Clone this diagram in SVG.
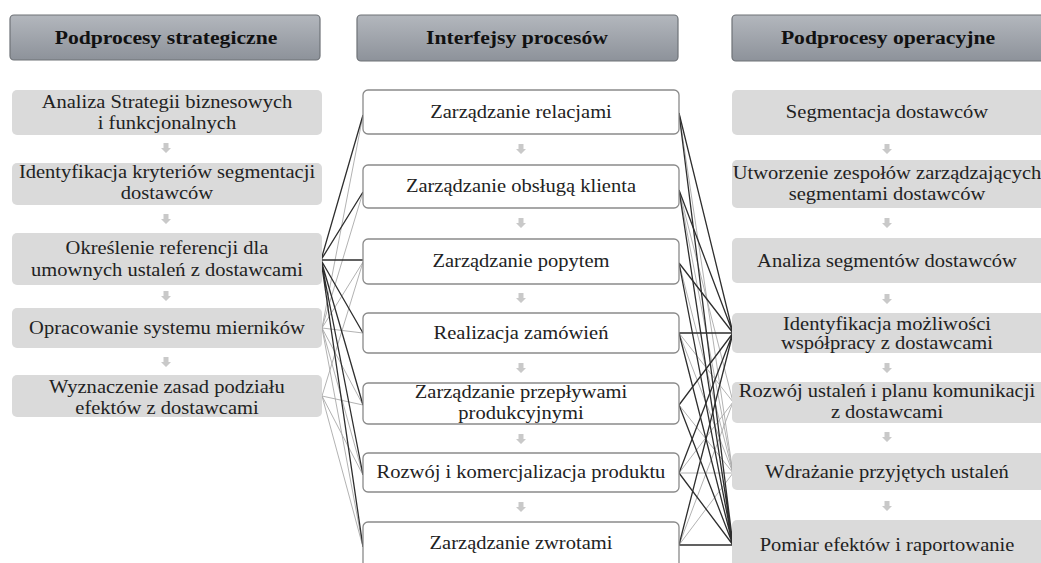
<svg xmlns="http://www.w3.org/2000/svg" width="1041" height="563" viewBox="0 0 1041 563">
<defs>
<linearGradient id="hg" x1="0" y1="0" x2="0" y2="1">
<stop offset="0" stop-color="#b3b7bd"/>
<stop offset="1" stop-color="#8d929a"/>
</linearGradient>
<path id="dn" d="M-2.5,-5 H2.5 V0 H5 L0,5 L-5,0 H-2.5 Z" fill="#c9c9c9"/>
</defs>
<style>
.hd{fill:url(#hg);stroke:#6e7277;stroke-width:1.2}
.ht{font-family:'Liberation Serif','Times New Roman','DejaVu Serif',serif;font-weight:bold;font-size:19px;fill:#111;text-anchor:middle;dominant-baseline:central;transform-box:fill-box;transform-origin:center;transform:scaleX(1.14)}
.gb{fill:#dadada}
.wb{fill:#fff;stroke:#8a8a8a;stroke-width:1.3}
.t{font-family:'Liberation Serif','Times New Roman','DejaVu Serif',serif;font-size:18px;fill:#222;text-anchor:middle;dominant-baseline:central;transform-box:fill-box;transform-origin:center;transform:scaleX(1.14)}
.dk{stroke:#2e2e2e;stroke-width:1.3;fill:none}
.lt{stroke:#a9a9a9;stroke-width:0.9;fill:none}
</style>
<rect width="1041" height="563" fill="#fff"/>

<g id="headers">
<g id="h-left"><rect class="hd" x="10" y="15" width="310" height="45" rx="4"/><text class="ht" x="166" y="37">Podprocesy strategiczne</text></g>
<g id="h-mid"><rect class="hd" x="357" y="15" width="321" height="46" rx="4"/><text class="ht" x="517" y="37">Interfejsy procesów</text></g>
<g id="h-right"><rect class="hd" x="732" y="15" width="320" height="46" rx="4"/><text class="ht" x="888" y="37">Podprocesy operacyjne</text></g>
</g>

<g id="connectors">
<g id="light">
<path class="lt" d="M322,328 L363,115 M322,328 L363,192 M322,328 L363,262 M322,328 L363,333 M322,328 L363,405 M322,328 L363,475 M322,328 L363,547"/>
<path class="lt" d="M322,396 L363,405 M322,396 L363,475 M322,396 L363,547 M322,396 L363,262"/>
<path class="lt" d="M679,113 L733,473 M679,190 L733,473 M679,263 L733,473 M679,333 L733,473 M679,405 L733,473 M679,473 L733,473 M679,545 L733,473"/>
<path class="lt" d="M679,190 L733,402 M679,333 L733,402 M679,473 L733,402 M679,545 L733,402"/>
</g>
<g id="dark">
<path class="dk" d="M321,260 L363,115 M321,260 L363,192 M321,260 L363,260 M321,260 L363,333 M321,260 L363,405 M321,260 L363,475 M321,260 L363,547"/>
<path class="dk" d="M679,113 L733,333 M679,190 L733,333 M679,263 L733,333 M679,333 L733,333 M679,405 L733,333 M679,473 L733,333 M679,545 L733,333"/>
<path class="dk" d="M679,113 L733,545 M679,190 L733,545 M679,263 L733,545 M679,333 L733,545 M679,405 L733,545 M679,473 L733,545 M679,545 L733,545"/>
</g>
</g>

<g id="arrows">
<use href="#dn" x="166" y="148"/><use href="#dn" x="166" y="219"/><use href="#dn" x="166" y="296"/><use href="#dn" x="166" y="362"/>
<use href="#dn" x="521" y="149"/><use href="#dn" x="521" y="223"/><use href="#dn" x="521" y="298"/><use href="#dn" x="521" y="368"/><use href="#dn" x="521" y="439"/><use href="#dn" x="521" y="507"/>
<use href="#dn" x="887" y="149"/><use href="#dn" x="887" y="223"/><use href="#dn" x="887" y="299"/><use href="#dn" x="887" y="368"/><use href="#dn" x="887" y="437"/><use href="#dn" x="887" y="506"/>
</g>

<g id="L1"><rect class="gb" x="12" y="90" width="310" height="45" rx="5"/><text class="t" x="167" y="102">Analiza Strategii biznesowych</text><text class="t" x="167" y="123">i funkcjonalnych</text></g>
<g id="L2"><rect class="gb" x="12" y="163" width="310" height="42" rx="5"/><text class="t" x="167" y="172">Identyfikacja kryteriów segmentacji</text><text class="t" x="167" y="193">dostawców</text></g>
<g id="L3"><rect class="gb" x="12" y="233" width="310" height="52" rx="5"/><text class="t" x="167" y="248">Określenie referencji dla</text><text class="t" x="167" y="270">umownych ustaleń z dostawcami</text></g>
<g id="L4"><rect class="gb" x="12" y="308" width="310" height="40" rx="5"/><text class="t" x="167" y="328">Opracowanie systemu mierników</text></g>
<g id="L5"><rect class="gb" x="12" y="375" width="310" height="42" rx="5"/><text class="t" x="167" y="387">Wyznaczenie zasad podziału</text><text class="t" x="167" y="408">efektów z dostawcami</text></g>

<g id="M1"><rect class="wb" x="363" y="90" width="316" height="44" rx="5"/><text class="t" x="521" y="112">Zarządzanie relacjami</text></g>
<g id="M2"><rect class="wb" x="363" y="165" width="316" height="43" rx="5"/><text class="t" x="521" y="186">Zarządzanie obsługą klienta</text></g>
<g id="M3"><rect class="wb" x="363" y="239" width="316" height="45" rx="5"/><text class="t" x="521" y="261">Zarządzanie popytem</text></g>
<g id="M4"><rect class="wb" x="363" y="313" width="316" height="40" rx="5"/><text class="t" x="521" y="333">Realizacja zamówień</text></g>
<g id="M5"><rect class="wb" x="363" y="383" width="316" height="41" rx="5"/><text class="t" x="521" y="392">Zarządzanie przepływami</text><text class="t" x="521" y="413">produkcyjnymi</text></g>
<g id="M6"><rect class="wb" x="363" y="453" width="316" height="39" rx="5"/><text class="t" x="521" y="472">Rozwój i komercjalizacja produktu</text></g>
<g id="M7"><rect class="wb" x="363" y="522" width="316" height="50" rx="5"/><text class="t" x="521" y="543">Zarządzanie zwrotami</text></g>

<g id="R1"><rect class="gb" x="732" y="90" width="320" height="45" rx="5"/><text class="t" x="887" y="112">Segmentacja dostawców</text></g>
<g id="R2"><rect class="gb" x="732" y="160" width="320" height="48" rx="5"/><text class="t" x="887" y="173">Utworzenie zespołów zarządzających</text><text class="t" x="887" y="194">segmentami dostawców</text></g>
<g id="R3"><rect class="gb" x="732" y="238" width="320" height="45" rx="5"/><text class="t" x="887" y="261">Analiza segmentów dostawców</text></g>
<g id="R4"><rect class="gb" x="732" y="313" width="320" height="40" rx="5"/><text class="t" x="887" y="324">Identyfikacja możliwości</text><text class="t" x="887" y="343">współpracy z dostawcami</text></g>
<g id="R5"><rect class="gb" x="732" y="382" width="320" height="41" rx="5"/><text class="t" x="887" y="391">Rozwój ustaleń i planu komunikacji</text><text class="t" x="887" y="412">z dostawcami</text></g>
<g id="R6"><rect class="gb" x="732" y="453" width="320" height="37" rx="5"/><text class="t" x="887" y="472">Wdrażanie przyjętych ustaleń</text></g>
<g id="R7"><rect class="gb" x="732" y="520" width="320" height="50" rx="5"/><text class="t" x="887" y="545">Pomiar efektów i raportowanie</text></g>
</svg>
